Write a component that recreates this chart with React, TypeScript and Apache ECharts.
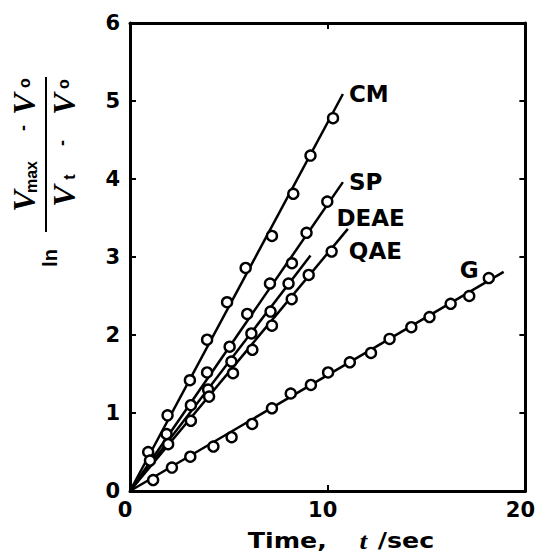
import React, { useEffect, useRef } from "react";
import * as echarts from "echarts";

// Measured points (time t /sec, ln((Vmax-Vo)/(Vt-Vo)))
const cmPoints = [[0.92, 0.5], [1.9, 0.97], [3.03, 1.42], [3.9, 1.94], [4.91, 2.42], [5.85, 2.86], [7.18, 3.27], [8.26, 3.81], [9.13, 4.3], [10.27, 4.78]];
const spPoints = [[1.85, 0.73], [3.08, 1.1], [3.9, 1.52], [5.04, 1.85], [5.93, 2.27], [7.08, 2.66], [8.19, 2.92], [8.93, 3.31], [9.98, 3.71]];
const deaePoints = [[1.01, 0.39], [3.95, 1.3], [5.13, 1.66], [6.14, 2.02], [7.11, 2.3], [8.02, 2.66]];
const qaePoints = [[1.93, 0.6], [3.08, 0.9], [4.0, 1.21], [5.21, 1.51], [6.19, 1.81], [7.18, 2.12], [8.18, 2.46], [9.04, 2.77], [10.2, 3.07]];
const gPoints = [[1.17, 0.14], [2.12, 0.3], [3.05, 0.44], [4.22, 0.57], [5.14, 0.69], [6.18, 0.86], [7.18, 1.06], [8.13, 1.25], [9.15, 1.36], [10.02, 1.52], [11.12, 1.65], [12.19, 1.77], [13.13, 1.95], [14.23, 2.1], [15.15, 2.23], [16.22, 2.4], [17.16, 2.5], [18.15, 2.73]];

// Fitted straight lines (start, end)
const cmFit = [[0, 0], [10.77, 5.09]];
const spFit = [[0, 0], [10.77, 3.96]];
const deaeFit = [[0, 0], [9.13, 3.02]];
const qaeFit = [[0, 0], [11.02, 3.36]];
const gFit = [[0, 0], [18.9, 2.81]];

const seriesNames = ["CM", "SP", "DEAE", "QAE", "G"];
const xTicks = [0, 10, 20];
const yTicks = [0, 1, 2, 3, 4, 5, 6];

const SANS = "'DejaVu Sans', 'Liberation Sans', Arial, sans-serif";
const SERIF = "'Liberation Serif', 'Times New Roman', serif";

export default function App() {
  const ref = useRef<HTMLDivElement>(null);

  useEffect(() => {
    document.body.style.margin = "0";
    if (!ref.current) return;
    const chart = echarts.init(ref.current, undefined, { renderer: "svg" });

    const pointSets = [cmPoints, spPoints, deaePoints, qaePoints, gPoints];
    const fits = [cmFit, spFit, deaeFit, qaeFit, gFit];
    const labelOffsets = [[6, 0], [6, 0], [26, -37], [1, 22], [-44, -2]];

    const lineSeries = fits.map((fit, i) => ({
      name: seriesNames[i],
      type: "line",
      data: fit,
      showSymbol: false,
      symbol: "none",
      z: 2,
      lineStyle: { color: "#000", width: 2.5 },
      endLabel: {
        show: true,
        formatter: seriesNames[i],
        color: "#000",
        fontFamily: SANS,
        fontWeight: "bold",
        fontSize: 23,
        distance: 0,
        offset: labelOffsets[i],
      },
    }));

    const scatterSeries = pointSets.map((pts, i) => ({
      name: seriesNames[i] + " data",
      type: "scatter",
      data: pts,
      symbol: "circle",
      symbolSize: 10,
      z: 3,
      itemStyle: { color: "#fff", borderColor: "#000", borderWidth: 2.4, opacity: 1 },
    }));

    const axisLine = { show: true, onZero: false, lineStyle: { color: "#000", width: 3 } };
    const axisTick = { show: true, inside: true, length: 6, lineStyle: { color: "#000", width: 2 } };
    const labelStyle = { color: "#000", fontSize: 21, fontWeight: "bold", fontFamily: SANS };

    const graphicEls: any[] = [];
    const tok = (text: string, x: number, y: number, font: string) => ({
      type: "text",
      x,
      y,
      rotation: Math.PI / 2,
      style: { text, font, fill: "#000", align: "center", verticalAlign: "middle", textAlign: "center", textVerticalAlign: "middle" },
    });
    const vFont = `italic bold 32px ${SERIF}`;
    const subFont = `bold 16px 'Liberation Sans', Arial, sans-serif`;
    const dashFont = `bold 18px 'Liberation Sans', Arial, sans-serif`;
    // numerator
    graphicEls.push(tok("V", 24, 201, vFont));
    graphicEls.push(tok("max", 31, 177, subFont));
    graphicEls.push(tok("-", 23, 128, dashFont));
    graphicEls.push(tok("V", 24, 104, vFont));
    graphicEls.push(tok("o", 24, 83, subFont));
    // denominator
    graphicEls.push(tok("V", 64, 196, vFont));
    graphicEls.push(tok("t", 69, 177, subFont));
    graphicEls.push(tok("-", 62, 143, dashFont));
    graphicEls.push(tok("V", 64, 104, vFont));
    graphicEls.push(tok("o", 63, 84, subFont));
    // fraction bar
    graphicEls.push({ type: "line", shape: { x1: 46, y1: 77, x2: 46, y2: 232 }, style: { stroke: "#000", lineWidth: 2 } });
    // ln
    graphicEls.push(tok("ln", 50, 258, `bold 20px 'Liberation Sans', Arial, sans-serif`));
    // x axis title
    graphicEls.push({
      type: "text",
      x: 341,
      y: 541,
      scaleX: 1.15,
      style: {
        text: "{a|Time,} {b|t} {a|/sec}",
        align: "center",
        verticalAlign: "middle",
        textAlign: "center",
        textVerticalAlign: "middle",
        fill: "#000",
        rich: {
          a: { fontFamily: SANS, fontWeight: "bold", fontSize: 22, fill: "#000", color: "#000" },
          b: { fontFamily: SERIF, fontWeight: "bold", fontStyle: "italic", fontSize: 24, fill: "#000", color: "#000", padding: [0, 6, 0, 25] },
        },
      },
    });

    chart.setOption({
      animation: false,
      backgroundColor: "#fff",
      grid: { left: 130, right: 11, top: 23, bottom: 65, containLabel: false },
      xAxis: [
        {
          type: "value", min: xTicks[0], max: xTicks[xTicks.length - 1], interval: 10, position: "bottom",
          axisLine, axisTick, splitLine: { show: false },
          axisLabel: { ...labelStyle, margin: 8, padding: [0, 10, 0, 0] },
        },
        {
          type: "value", min: xTicks[0], max: xTicks[xTicks.length - 1], interval: 10, position: "top",
          axisLine, axisTick, splitLine: { show: false }, axisLabel: { show: false },
        },
      ],
      yAxis: [
        {
          type: "value", min: yTicks[0], max: yTicks[yTicks.length - 1], interval: 1, position: "left",
          axisLine, axisTick, splitLine: { show: false },
          axisLabel: { ...labelStyle, margin: 10 },
        },
        {
          type: "value", min: yTicks[0], max: yTicks[yTicks.length - 1], interval: 1, position: "right",
          axisLine, axisTick, splitLine: { show: false }, axisLabel: { show: false },
        },
      ],
      series: [...lineSeries, ...scatterSeries],
      graphic: { elements: graphicEls },
    } as any);

    return () => chart.dispose();
  }, []);

  return <div ref={ref} style={{ width: 538, height: 556 }} />;
}
